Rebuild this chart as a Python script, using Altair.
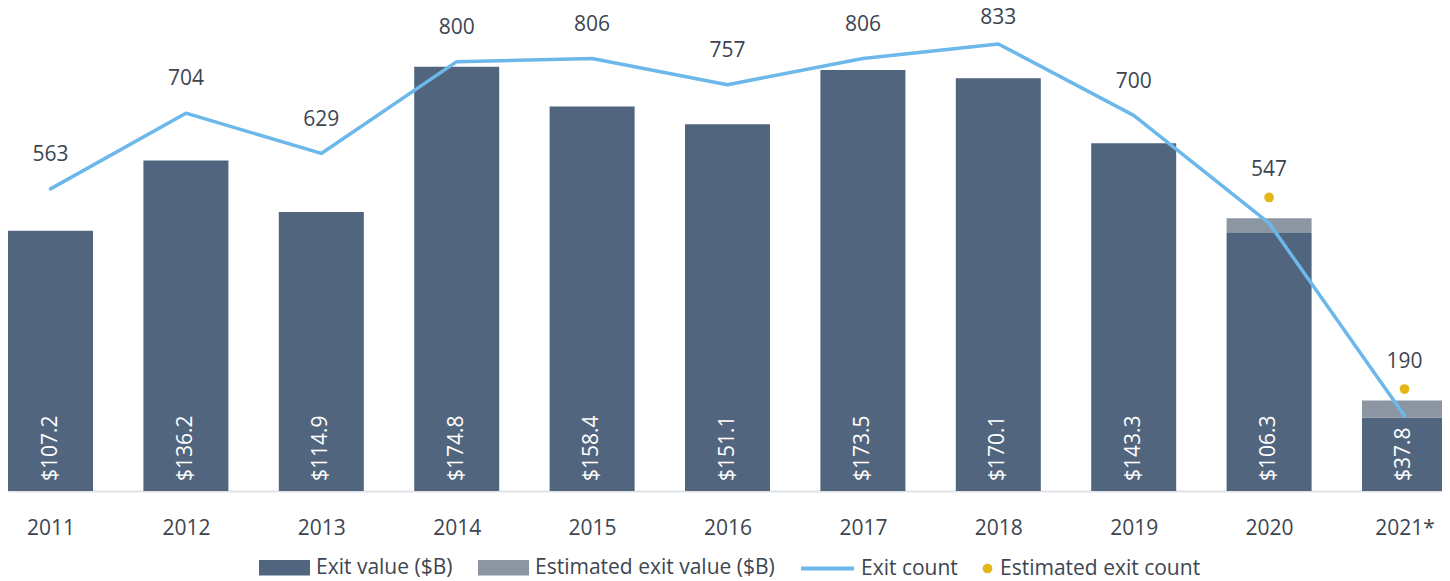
import altair as alt
import pandas as pd

years = [2011, 2012, 2013, 2014, 2015, 2016, 2017, 2018, 2019, 2020, 2021]
year_labels = ["2011", "2012", "2013", "2014", "2015", "2016", "2017", "2018", "2019", "2020", "2021*"]
exit_value = [107.2, 136.2, 114.9, 174.8, 158.4, 151.1, 173.5, 170.1, 143.3, 106.3, 30.3]
estimated_value = [0, 0, 0, 0, 0, 0, 0, 0, 0, 6.1, 7.0]
value_labels = ["$107.2", "$136.2", "$114.9", "$174.8", "$158.4", "$151.1",
                "$173.5", "$170.1", "$143.3", "$106.3", "$37.8"]
exit_count = [563, 704, 629, 800, 806, 757, 806, 833, 700, 499, 140]
count_labels = [563, 704, 629, 800, 806, 757, 806, 833, 700, None, None]
estimated_count = [None] * 9 + [547, 190]

S_EXIT = "Exit value ($B)"
S_EST = "Estimated exit value ($B)"
S_LINE = "Exit count"
S_DOT = "Estimated exit count"
C_EXIT = "#52657e"
C_EST = "#8c96a3"
C_LINE = "#6cb8ea"
C_DOT = "#e2b617"
TXT = "#3d4551"
FONT = "Open Sans"
FS = 21

rows = []
for y, v, e in zip(years, exit_value, estimated_value):
    rows.append({"year": y, "series": S_EXIT, "value": v, "ord": 0})
    if e:
        rows.append({"year": y, "series": S_EST, "value": e, "ord": 1})
bars_df = pd.DataFrame(rows)

main_df = pd.DataFrame({
    "year": years,
    "exit_value": exit_value,
    "value_label": value_labels,
    "count": exit_count,
    "count_label": count_labels,
    "est_count": estimated_count,
    "line_series": [S_LINE] * len(years),
    "dot_series": [S_DOT] * len(years),
})

label_arr = "[" + ",".join("'" + s + "'" for s in year_labels) + "]"

x_enc = alt.X(
    "year:Q",
    scale=alt.Scale(domain=[2010.686, 2021.277], nice=False, zero=False, padding=0),
    axis=alt.Axis(
        values=years,
        labelExpr=f"{label_arr}[datum.value - {years[0]}]",
        title=None, ticks=False, grid=False,
        domainColor="#dfe3e8", domainWidth=2,
        labelFontSize=FS, labelFont=FONT, labelColor=TXT,
        labelPadding=26, labelFlush=False, labelOverlap=False,
    ),
)

vscale = alt.Scale(domain=[0, 199], nice=False, zero=True)
cscale = alt.Scale(domain=[0, 900], nice=False, zero=True)

legend_common = dict(
    orient="none", direction="horizontal", title=None, padding=0,
    labelFontSize=FS, labelFont=FONT, labelColor=TXT, labelLimit=500,
)

bars = alt.Chart(bars_df).mark_bar(size=85).encode(
    x=x_enc,
    y=alt.Y("value:Q", stack="zero", scale=vscale, axis=None),
    fill=alt.Fill(
        "series:N",
        scale=alt.Scale(domain=[S_EXIT, S_EST], range=[C_EXIT, C_EST]),
        legend=alt.Legend(
            legendX=251, legendY=534,
            symbolType="M-1,-0.3077H1V0.3077H-1Z", symbolSize=2601,
            symbolStrokeWidth=0, symbolOpacity=1,
            labelOffset=6, columnPadding=25,
            **legend_common,
        ),
    ),
    order=alt.Order("ord:Q"),
)

bar_text = alt.Chart(main_df).mark_text(
    angle=270, align="left", baseline="middle", dx=10,
    color="white", fontSize=FS, font=FONT,
).encode(
    x=x_enc,
    y=alt.YDatum(0, scale=vscale, axis=None),
    text="value_label:N",
)

line = alt.Chart(main_df).mark_line(strokeWidth=3.5, strokeCap="round", strokeJoin="round").encode(
    x=x_enc,
    y=alt.Y("count:Q", scale=cscale, axis=None),
    stroke=alt.Stroke(
        "line_series:N",
        scale=alt.Scale(domain=[S_LINE], range=[C_LINE]),
        legend=alt.Legend(
            legendX=791, legendY=532,
            symbolType="stroke", symbolSize=2809, symbolStrokeWidth=4,
            labelOffset=5,
            **legend_common,
        ),
    ),
)

dots = alt.Chart(main_df).transform_filter("datum.est_count != null").mark_point(
    filled=True, size=95, color=C_DOT, opacity=1,
).encode(
    x=x_enc,
    y=alt.Y("est_count:Q", scale=cscale, axis=None),
    shape=alt.Shape(
        "dot_series:N",
        scale=alt.Scale(domain=[S_DOT], range=["circle"]),
        legend=alt.Legend(
            legendX=969, legendY=550,
            symbolSize=95, symbolFillColor=C_DOT, symbolStrokeWidth=0,
            labelOffset=2,
            **legend_common,
        ),
    ),
)

count_text = alt.Chart(main_df).transform_filter(
    "datum.count_label != null"
).transform_calculate(
    ly="min(datum.count_label + 63, 881)"
).mark_text(
    align="center", baseline="middle", color=TXT, fontSize=FS, font=FONT,
).encode(
    x=x_enc,
    y=alt.Y("ly:Q", scale=cscale, axis=None),
    text=alt.Text("count_label:Q", format="d"),
)

est_text = alt.Chart(main_df).transform_filter(
    "datum.est_count != null"
).mark_text(
    align="center", baseline="middle", dy=-27, color=TXT, fontSize=FS, font=FONT,
).encode(
    x=x_enc,
    y=alt.Y("est_count:Q", scale=cscale, axis=None),
    text=alt.Text("est_count:Q", format="d"),
)

chart = alt.layer(bars, bar_text, line, dots, count_text, est_text).resolve_scale(
    y="independent"
).properties(
    width=1434, height=483,
    padding={"left": 0, "top": 0, "right": 0, "bottom": 89},
    autosize=alt.AutoSizeParams(type="none"),
).configure_view(stroke=None)

chart.save("out.html", embed_options={"renderer": "svg", "actions": False})
